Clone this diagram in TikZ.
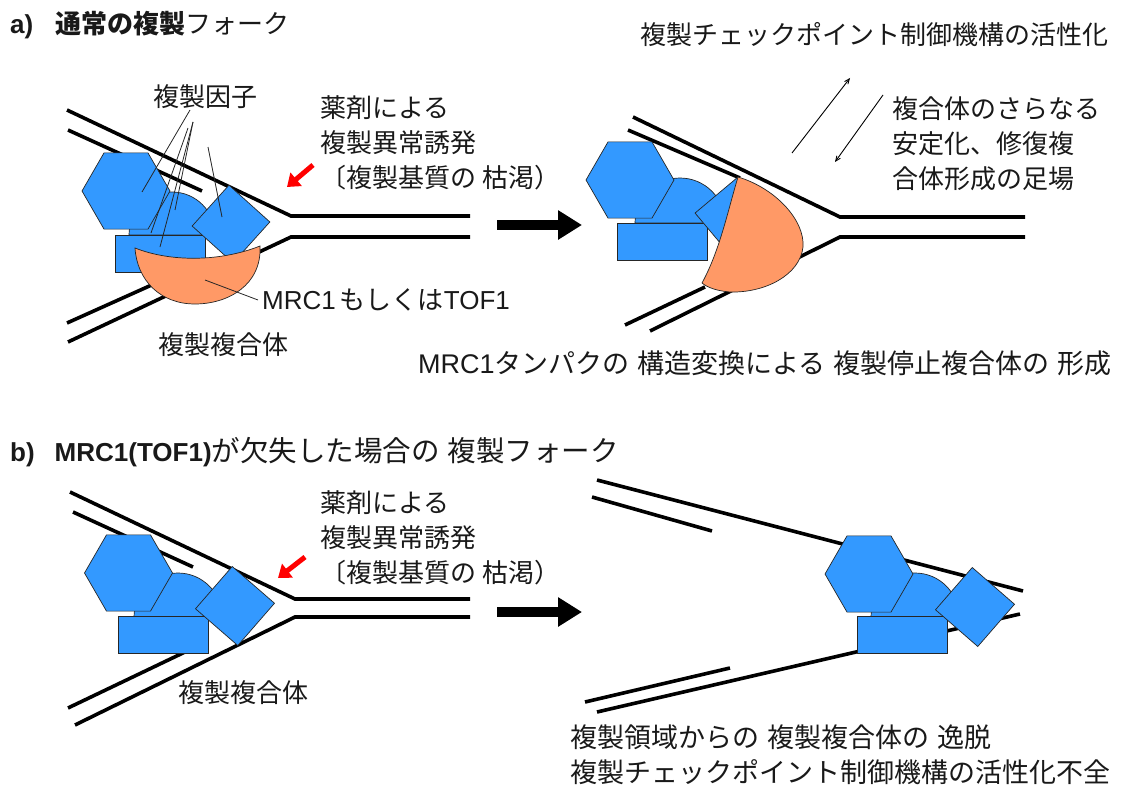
\documentclass[tikz,border=0pt]{standalone}
\usepackage{fontspec}
\setmainfont{Noto Sans CJK JP}
\newfontfamily\lat{Liberation Sans}
\usetikzlibrary{shapes.geometric,arrows,arrows.meta,positioning}

\definecolor{factorblue}{RGB}{51,153,255}
\definecolor{mrcorange}{RGB}{255,153,102}

\newcommand\gap[1]{\hspace{#1pt}}

\tikzstyle{strand}=[line width=3.6pt]
\tikzstyle{factor}=[draw=black!85, line width=0.7pt, fill=factorblue]
\tikzstyle{hexfactor}=[factor, regular polygon, regular polygon sides=6, inner sep=0pt, minimum size=88pt]
\tikzstyle{boxfactor}=[factor, rectangle, inner sep=0pt, minimum width=90pt, minimum height=37pt]
\tikzstyle{sqfactor}=[factor, rectangle, inner sep=0pt, minimum size=55pt]
\tikzstyle{mrc}=[draw=black!85, line width=0.7pt, fill=mrcorange]
\tikzstyle{lbl}=[anchor=west, inner sep=0pt, text=black!90, font=\fontsize{26}{35}\selectfont]
\tikzstyle{widelbl}=[lbl, font=\fontsize{27}{35}\selectfont]
\tikzstyle{pointer}=[draw=black!85, line width=0.8pt]
\tikzstyle{bigarrow}=[line width=10pt, -{Triangle[length=24pt,width=28pt]}]
\tikzstyle{drugarrow}=[red, line width=5pt, -{Triangle[length=12pt,width=17pt]}]
\tikzstyle{thinarrow}=[line width=0.9pt, -angle 45]

\begin{document}
\begin{tikzpicture}[x=1pt, y=-1pt]
\useasboundingbox (0,0) rectangle (1122,789);

%% a) normal fork, left
\draw[strand] (67,110) -- (291,216) -- (470,216);
\draw[strand] (68,130) -- (202,191);
\draw[strand] (68,342) -- (291,237) -- (470,237);
\draw[strand] (67,323) -- (165,279);

\draw[factor] (129,235) arc[start angle=180, end angle=0, radius=43pt] -- cycle;
\node[hexfactor] (hexA) at (126,191) {};
\node[boxfactor] (boxA) at (160,253.5) {};
\node[sqfactor, rotate=-42] (sqA) at (231,224) {};
\draw[mrc] (135,248) .. controls (170,262) and (220,262) .. (260,246)
  .. controls (262,285) and (228,304) .. (195,304)
  .. controls (160,304) and (137,280) .. (135,248) -- cycle;

\node[lbl] (factors) at (153,97) {複製因子};
\coordinate (f1) at (190,110);
\coordinate (f2) at (193,122);
\coordinate (f3) at (188,128);
\draw[pointer] (f1) -- (142,192);
\draw[pointer] (f2) -- (175,210);
\draw[pointer] (f2) -- (160,247);
\draw[pointer] (f3) -- (151,233);
\draw[pointer] (208,147) -- (222,217);

\node[lbl, align=left] (drugA) at (320,143) {薬剤による\\複製異常誘発\\〔複製基質の\gap{6}枯渇）};
\coordinate (drugtailA) at (313,165);
\coordinate (drugtipA) at (287,187);
\draw[drugarrow] (drugtailA) -- (drugtipA);

\node[lbl] (mrcA) at (262,300) {{\lat MRC1}\gap{4}もしくは{\lat TOF1}};
\coordinate (mrcin) at (205,280);
\draw[pointer] (mrcin) -- ([xshift=-4pt]mrcA.west);
\node[lbl] (cplxA) at (158,345) {複製複合体};

\node[lbl] (titleA) at (10,25) {{\lat\bfseries a)}\gap{22}{\bfseries 通常の複製}フォーク};

\coordinate (goA) at (497,225);
\coordinate (stopA) at (582,225);
\draw[bigarrow] (goA) -- (stopA);

%% a) stalled fork, right
\draw[strand] (633,117) -- (840,217) -- (1025,217);
\draw[strand] (628,130) -- (740,178);
\draw[strand] (650,331) -- (840,237) -- (1025,237);
\draw[strand] (625,325) -- (705,287);

\draw[factor] (635,223) arc[start angle=180, end angle=0, radius=45pt] -- cycle;
\node[hexfactor] (hexB) at (630,180) {};
\node[boxfactor] (boxB) at (662.5,241.5) {};
\node[sqfactor, minimum size=56pt, rotate=40] (sqB) at (734.5,216.5) {};
\draw[mrc] (738,177) .. controls (775,188) and (805,220) .. (803,247)
  .. controls (800,275) and (765,293) .. (730,292)
  .. controls (718,291) and (708,288) .. (702,283)
  .. controls (720,250) and (728,210) .. (738,177) -- cycle;

\node[lbl] (ckpt) at (640,35) {複製チェックポイント制御機構の活性化};
\node[lbl, align=left] (scaffold) at (892,144) {複合体のさらなる\\安定化、修復複\\合体形成の足場};
\coordinate (upfrom) at (792,153);
\coordinate (upto) at (850,78);
\coordinate (downfrom) at (883,95);
\coordinate (downto) at (835,162);
\draw[thinarrow] (upfrom) -- (upto);
\draw[thinarrow] (downfrom) -- (downto);

\node[widelbl] (stall) at (418,363) {{\lat MRC1}タンパクの\gap{8}構造変換による\gap{8}複製停止複合体の\gap{8}形成};

%% b) fork without MRC1, left
\node[lbl] (titleB) at (10,452) {{\lat\bfseries b)\gap{20}MRC1(TOF1)}{\fontsize{28.5}{35}\selectfont が欠失した場合の\gap{8}複製フォーク}};

\draw[strand] (70,492) -- (295,599) -- (470,599);
\draw[strand] (73,512) -- (193,567);
\draw[strand] (75,725) -- (295,617) -- (470,617);
\draw[strand] (68,708) -- (185,652);

\draw[factor] (134,617) arc[start angle=180, end angle=0, radius=44pt] -- cycle;
\node[hexfactor] (hexC) at (128.5,573) {};
\node[boxfactor] (boxC) at (163,635) {};
\node[sqfactor, minimum size=56pt, rotate=-41] (sqC) at (235,606) {};

\node[lbl, align=left] (drugB) at (320,538) {薬剤による\\複製異常誘発\\〔複製基質の\gap{6}枯渇）};
\coordinate (drugtailB) at (305,557);
\coordinate (drugtipB) at (278,578);
\draw[drugarrow] (drugtailB) -- (drugtipB);
\node[lbl] (cplxB) at (178,693) {複製複合体};

\coordinate (goB) at (497,612);
\coordinate (stopB) at (582,612);
\draw[bigarrow] (goB) -- (stopB);

%% b) complex leaves the fork, right
\draw[strand] (597,480) -- (1023,591);
\draw[strand] (592,497) -- (712,531);
\draw[strand] (597,712) -- (1020,614);
\draw[strand] (585,702) -- (730,668);

\draw[factor] (871,617) arc[start angle=180, end angle=0, radius=44pt] -- cycle;
\node[hexfactor] (hexD) at (869,574) {};
\node[boxfactor] (boxD) at (902.5,635) {};
\node[sqfactor, minimum size=56pt, rotate=-41] (sqD) at (975,607) {};

\node[widelbl, align=left] (escape) at (570,755) {複製領域からの\gap{8}複製複合体の\gap{8}逸脱\\複製チェックポイント制御機構の活性化不全};

\end{tikzpicture}
\end{document}
